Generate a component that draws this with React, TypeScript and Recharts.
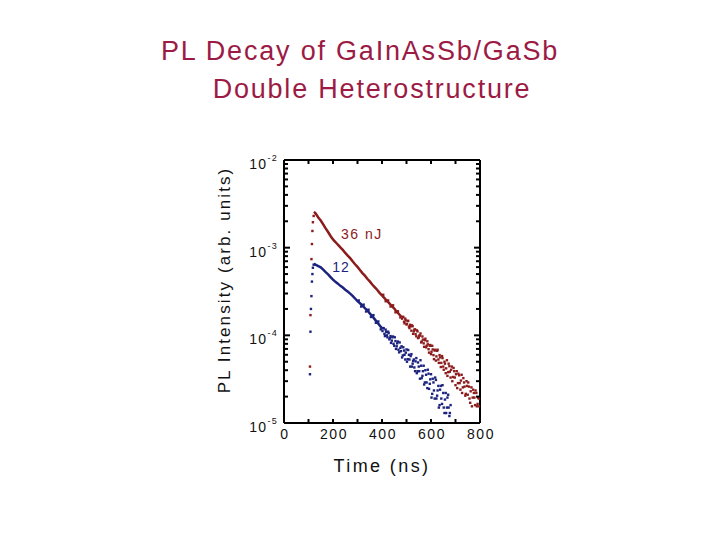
import React from "react";
import {
  ComposedChart,
  Line,
  Scatter,
  XAxis,
  YAxis,
} from "recharts";

// tick values
const xTicks = [0, 100, 200, 300, 400, 500, 600, 700, 800];
const xLabels = [0, 200, 400, 600, 800];
const yTicks = [
  1e-5, 2e-5, 3e-5, 4e-5, 5e-5, 6e-5, 7e-5, 8e-5, 9e-5,
  1e-4, 2e-4, 3e-4, 4e-4, 5e-4, 6e-4, 7e-4, 8e-4, 9e-4,
  1e-3, 2e-3, 3e-3, 4e-3, 5e-3, 6e-3, 7e-3, 8e-3, 9e-3,
  1e-2,
];
const yDecades = [1e-5, 1e-4, 1e-3, 1e-2];

// 36 nJ : rising edge, smooth decay, noisy tail
const redRiseT = [106, 108, 112, 114, 116, 118, 121];
const redRiseV = [4.4e-5, 1.7e-4, 7.4e-4, 1.1e-3, 1.55e-3, 1.95e-3, 2.3e-3];
const redLineT = [122, 126, 130, 140, 150, 160, 170, 180, 190, 200, 210, 220, 230, 240, 250, 260, 270, 280, 290, 300, 310, 320, 330, 340, 350, 360, 370, 380, 390, 400, 410, 420, 430, 440, 450, 460, 470, 480];
const redLineV = [2.56e-3, 2.51e-3, 2.43e-3, 2.21e-3, 2.04e-3, 1.84e-3, 1.66e-3, 1.51e-3, 1.36e-3, 1.24e-3, 1.16e-3, 1.08e-3, 1.01e-3, 9.44e-4, 8.7e-4, 8.13e-4, 7.59e-4, 7.0e-4, 6.46e-4, 6.03e-4, 5.56e-4, 5.13e-4, 4.79e-4, 4.42e-4, 4.12e-4, 3.8e-4, 3.55e-4, 3.31e-4, 3.05e-4, 2.85e-4, 2.66e-4, 2.48e-4, 2.32e-4, 2.16e-4, 2.02e-4, 1.86e-4, 1.74e-4, 1.62e-4];
const redMidT = [405, 415, 425, 435, 445, 455, 465, 475];
const redMidV = [2.9e-4, 2.45e-4, 2.5e-4, 2.13e-4, 2.2e-4, 1.83e-4, 1.88e-4, 1.6e-4];
const redTailAT = [485, 490, 495, 500, 505, 510, 515, 520, 525, 530, 535, 540, 545, 550, 555, 560, 565, 570, 575, 580, 585, 590, 595, 600, 605, 610, 615, 620, 625, 630, 635, 640, 645, 650, 655, 660, 665, 670, 675, 680, 685, 690, 695, 700, 705, 710, 715, 720, 725, 730, 735, 740, 745, 750, 755, 760, 765, 770, 775, 780, 785, 790, 795, 800];
const redTailAV = [1.62e-4, 1.43e-4, 1.55e-4, 1.33e-4, 1.46e-4, 1.26e-4, 1.32e-4, 1.13e-4, 1.27e-4, 1.11e-4, 1.17e-4, 9.75e-5, 1.11e-4, 9.45e-5, 9.95e-5, 8.3e-5, 9.7e-5, 8.1e-5, 8.8e-5, 7.3e-5, 8.55e-5, 6.95e-5, 7.6e-5, 6.1e-5, 7.6e-5, 5.95e-5, 6.7e-5, 5.15e-5, 6.65e-5, 5.3e-5, 5.95e-5, 4.35e-5, 5.8e-5, 4.4e-5, 5.0e-5, 3.7e-5, 5.2e-5, 3.8e-5, 4.45e-5, 3.3e-5, 4.4e-5, 3.35e-5, 3.9e-5, 2.7e-5, 3.9e-5, 2.85e-5, 3.5e-5, 2.4e-5, 3.55e-5, 2.55e-5, 2.9e-5, 2.05e-5, 3.0e-5, 2.1e-5, 2.6e-5, 1.7e-5, 2.55e-5, 1.95e-5, 2.2e-5, 1.6e-5, 2.2e-5, 1.65e-5, 1.9e-5, 1.95e-5];
const redTailBT = [482, 487, 492, 497, 502, 507, 512, 517, 522, 527, 532, 537, 542, 547, 552, 557, 562, 567, 572, 577, 582, 587, 592, 597, 602, 607, 612, 617, 622, 627, 632, 637, 642, 647, 652, 657, 662, 667, 672, 677, 682, 687, 692, 697, 702, 707, 712, 717, 722, 727, 732, 737, 742, 747, 752, 757, 762, 767, 772, 777, 782, 787, 792, 797];
const redTailBV = [1.55e-4, 1.62e-4, 1.37e-4, 1.48e-4, 1.35e-4, 1.46e-4, 1.21e-4, 1.27e-4, 1.3e-4, 1.04e-4, 1.16e-4, 1.03e-4, 1.14e-4, 9.3e-5, 9.9e-5, 1.05e-4, 8.5e-5, 8.95e-5, 7.4e-5, 9.15e-5, 7.6e-5, 7.9e-5, 6.35e-5, 7.75e-5, 6.5e-5, 6.9e-5, 5.35e-5, 6.85e-5, 5.75e-5, 6.85e-5, 4.85e-5, 5.6e-5, 4.85e-5, 5.5e-5, 4.05e-5, 4.75e-5, 4.2e-5, 3.45e-5, 4.75e-5, 3.85e-5, 4.05e-5, 3.0e-5, 4.25e-5, 3.3e-5, 3.6e-5, 2.5e-5, 3.65e-5, 2.85e-5, 3.05e-5, 2.2e-5, 3.25e-5, 2.6e-5, 2.15e-5, 2.65e-5, 2.9e-5, 1.9e-5, 2.3e-5, 1.55e-5, 2.4e-5, 1.95e-5, 2.35e-5, 1.55e-5, 1.95e-5, 1.55e-5];

// 12 nJ
const blueRiseT = [106, 108, 110, 112, 114, 116, 118, 121];
const blueRiseV = [3.6e-5, 1.1e-4, 2.0e-4, 2.8e-4, 4.1e-4, 5.0e-4, 5.9e-4, 6.4e-4];
const blueLineT = [122, 126, 130, 140, 150, 160, 170, 180, 190, 200, 210, 220, 230, 240, 250, 260, 270, 280, 290, 300, 310, 320, 330, 340, 350, 360, 370, 380, 390, 400];
const blueLineV = [6.5e-4, 6.46e-4, 6.38e-4, 6.17e-4, 5.96e-4, 5.62e-4, 5.25e-4, 4.95e-4, 4.62e-4, 4.32e-4, 4.07e-4, 3.89e-4, 3.67e-4, 3.51e-4, 3.31e-4, 3.16e-4, 2.99e-4, 2.82e-4, 2.63e-4, 2.45e-4, 2.32e-4, 2.19e-4, 2.04e-4, 1.93e-4, 1.78e-4, 1.66e-4, 1.53e-4, 1.41e-4, 1.3e-4, 1.2e-4];
const blueMidT = [305, 315, 325, 335, 345, 355, 365, 375, 385, 395];
const blueMidV = [2.5e-4, 2.13e-4, 2.24e-4, 1.87e-4, 1.96e-4, 1.62e-4, 1.7e-4, 1.39e-4, 1.44e-4, 1.17e-4];
const blueTailAT = [405, 410, 415, 420, 425, 430, 435, 440, 445, 450, 455, 460, 465, 470, 475, 480, 485, 490, 495, 500, 505, 510, 515, 520, 525, 530, 535, 540, 545, 550, 555, 560, 565, 570, 575, 580, 585, 590, 595, 600, 605, 610, 615, 620, 625, 630, 635, 640, 645, 650, 655, 660, 665, 670, 675, 680];
const blueTailAV = [1.21e-4, 1.04e-4, 1.16e-4, 1.0e-4, 1.1e-4, 9.0e-5, 9.8e-5, 8.7e-5, 9.7e-5, 7.6e-5, 8.6e-5, 7.5e-5, 8.5e-5, 6.4e-5, 7.2e-5, 7.5e-5, 5.9e-5, 6.7e-5, 5.3e-5, 6.9e-5, 5.35e-5, 6.0e-5, 4.4e-5, 6.1e-5, 4.75e-5, 5.3e-5, 3.9e-5, 5.5e-5, 3.9e-5, 4.4e-5, 3.2e-5, 4.5e-5, 3.45e-5, 4.5e-5, 2.9e-5, 3.55e-5, 2.5e-5, 3.65e-5, 2.8e-5, 3.6e-5, 2.15e-5, 2.9e-5, 1.9e-5, 3.1e-5, 2.05e-5, 2.65e-5, 1.6e-5, 2.65e-5, 1.65e-5, 2.2e-5, 1.3e-5, 2.2e-5, 1.5e-5, 2.1e-5, 1.2e-5, 1.6e-5];
const blueTailBT = [402, 407, 412, 417, 422, 427, 432, 437, 442, 447, 452, 457, 462, 467, 472, 477, 482, 487, 492, 497, 502, 507, 512, 517, 522, 527, 532, 537, 542, 547, 552, 557, 562, 567, 572, 577, 582, 587, 592, 597, 602, 607, 612, 617, 622, 627, 632, 637, 642, 647, 652, 657, 662, 667, 672, 677];
const blueTailBV = [1.12e-4, 1.2e-4, 9.8e-5, 1.09e-4, 9.5e-5, 1.06e-4, 9.3e-5, 8.2e-5, 9.5e-5, 8.0e-5, 9.5e-5, 7.0e-5, 8.1e-5, 6.85e-5, 8.3e-5, 6.6e-5, 5.6e-5, 7.3e-5, 6.0e-5, 6.35e-5, 5.0e-5, 6.8e-5, 5.3e-5, 5.8e-5, 4.4e-5, 5.1e-5, 4.3e-5, 5.05e-5, 3.7e-5, 4.9e-5, 3.9e-5, 5.2e-5, 3.25e-5, 3.9e-5, 2.75e-5, 4.0e-5, 2.9e-5, 4.05e-5, 2.45e-5, 3.15e-5, 1.95e-5, 3.2e-5, 2.35e-5, 3.3e-5, 1.9e-5, 2.35e-5, 1.5e-5, 2.4e-5, 1.9e-5, 2.7e-5, 1.5e-5, 1.85e-5, 1.3e-5, 1.95e-5, 1.5e-5, 1.3e-5];

const RED = "#8c1c1c";
const BLUE = "#1c237e";
const TITLE = "#9b1b45";
const FONT = "'Liberation Sans', Arial, sans-serif";

const zip = (t: number[], v: number[]) => t.map((x, i) => ({ t: x, v: v[i] }));

const dot = (color: string) => (p: any) =>
  <rect x={p.cx - 1.2} y={p.cy - 1.2} width={2.4} height={2.4} fill={color} />;

const isDecade = (v: number) => yDecades.some((d) => Math.abs(v / d - 1) < 1e-6);

const LeftTick = (props: any) => {
  const { x, y, payload } = props;
  const major = isDecade(payload.value);
  const exp = Math.round(Math.log10(payload.value));
  return (
    <g>
      <line x1={x} x2={x + (major ? 6 : 4)} y1={y} y2={y} stroke="#000" strokeWidth={2} />
      {major && (
        <text x={x - 6} y={y + 9} textAnchor="end" fontSize={14} fontFamily={FONT} fill="#111" letterSpacing={1.3}>
          <tspan>10</tspan>
          <tspan dy={-8} fontSize={9}>{exp}</tspan>
        </text>
      )}
    </g>
  );
};

const RightTick = (props: any) => {
  const { x, y, payload } = props;
  const major = isDecade(payload.value);
  return <line x1={x} x2={x - (major ? 6 : 4)} y1={y} y2={y} stroke="#000" strokeWidth={2} />;
};

const BottomTick = (props: any) => {
  const { x, y, payload } = props;
  const show = xLabels.includes(payload.value);
  return (
    <g>
      <line x1={x} x2={x} y1={y} y2={y - 4} stroke="#000" strokeWidth={2} />
      {show && (
        <text x={x + 1} y={y + 16} textAnchor="middle" fontSize={14} fontFamily={FONT} fill="#111" letterSpacing={1.5}>
          {payload.value}
        </text>
      )}
    </g>
  );
};

const TopTick = (props: any) => {
  const { x, y } = props;
  return <line x1={x} x2={x} y1={y} y2={y + 4} stroke="#000" strokeWidth={2} />;
};

export default function App() {
  return (
    <div style={{ position: "absolute", left: 0, top: 0, width: 720, height: 540, background: "#fff", fontFamily: FONT }}>
      <div style={{ position: "absolute", left: 0, width: 720, top: 32, textAlign: "center", fontSize: 27, letterSpacing: 1.8, color: TITLE, lineHeight: "38px" }}>
        <div style={{ marginLeft: 0 }}>PL Decay of GaInAsSb/GaSb</div>
        <div style={{ marginLeft: 24 }}>Double Heterostructure</div>
      </div>
      <div
        style={{
          position: "absolute",
          left: 225,
          top: 280,
          transform: "translate(-50%, -50%) rotate(-90deg)",
          whiteSpace: "nowrap",
          fontSize: 17,
          letterSpacing: 2.1,
          color: "#111",
        }}
      >
        PL Intensity (arb. units)
      </div>
      <div style={{ position: "absolute", left: 382, top: 466, transform: "translate(-50%, -50%)", fontSize: 18, letterSpacing: 2.4, color: "#111", whiteSpace: "nowrap" }}>
        Time (ns)
      </div>
      <ComposedChart width={720} height={540} margin={{ top: 150, right: 230, bottom: 87, left: 244 }}>
        <XAxis
          xAxisId={0}
          dataKey="t"
          type="number"
          domain={[0, 800]}
          ticks={xTicks}
          interval={0}
          allowDataOverflow
          height={30}
          tickSize={0}
          tickMargin={0}
          tick={<BottomTick />}
          axisLine={{ stroke: "#000", strokeWidth: 2 }}
        />
        <XAxis
          xAxisId="top"
          orientation="top"
          dataKey="t"
          type="number"
          domain={[0, 800]}
          ticks={xTicks}
          interval={0}
          allowDataOverflow
          height={10}
          tickSize={0}
          tickMargin={0}
          tick={<TopTick />}
          axisLine={{ stroke: "#000", strokeWidth: 2 }}
        />
        <YAxis
          yAxisId={0}
          dataKey="v"
          type="number"
          scale="log"
          domain={[1e-5, 1e-2]}
          ticks={yTicks}
          interval={0}
          allowDataOverflow
          width={40}
          tickSize={0}
          tickMargin={0}
          tick={<LeftTick />}
          axisLine={{ stroke: "#000", strokeWidth: 2 }}
        />
        <YAxis
          yAxisId="right"
          orientation="right"
          dataKey="v"
          type="number"
          scale="log"
          domain={[1e-5, 1e-2]}
          ticks={yTicks}
          interval={0}
          allowDataOverflow
          width={10}
          tickSize={0}
          tickMargin={0}
          tick={<RightTick />}
          axisLine={{ stroke: "#000", strokeWidth: 2 }}
        />
        <Line data={zip(redLineT, redLineV)} dataKey="v" type="linear" stroke={RED} strokeWidth={2.5} dot={false} isAnimationActive={false} />
        <Line data={zip(blueLineT, blueLineV)} dataKey="v" type="linear" stroke={BLUE} strokeWidth={2.5} dot={false} isAnimationActive={false} />
        <Scatter data={zip(redRiseT, redRiseV)} dataKey="v" shape={dot(RED)} isAnimationActive={false} />
        <Scatter data={zip(blueRiseT, blueRiseV)} dataKey="v" shape={dot(BLUE)} isAnimationActive={false} />
        <Scatter data={zip(redMidT, redMidV)} dataKey="v" shape={dot(RED)} isAnimationActive={false} />
        <Scatter data={zip(blueMidT, blueMidV)} dataKey="v" shape={dot(BLUE)} isAnimationActive={false} />
        <Scatter data={zip(redTailAT, redTailAV)} dataKey="v" shape={dot(RED)} isAnimationActive={false} />
        <Scatter data={zip(redTailBT, redTailBV)} dataKey="v" shape={dot(RED)} isAnimationActive={false} />
        <Scatter data={zip(blueTailAT, blueTailAV)} dataKey="v" shape={dot(BLUE)} isAnimationActive={false} />
        <Scatter data={zip(blueTailBT, blueTailBV)} dataKey="v" shape={dot(BLUE)} isAnimationActive={false} />
        <Scatter
          data={[{ t: 318, v: 1.45e-3 }]}
          dataKey="v"
          isAnimationActive={false}
          shape={(p: any) => (
            <text x={p.cx} y={p.cy + 5} textAnchor="middle" fontSize={14} fontFamily={FONT} fill={RED} letterSpacing={1.5}>
              36 nJ
            </text>
          )}
        />
        <Scatter
          data={[{ t: 233, v: 6.0e-4 }]}
          dataKey="v"
          isAnimationActive={false}
          shape={(p: any) => (
            <text x={p.cx} y={p.cy + 5} textAnchor="middle" fontSize={14} fontFamily={FONT} fill={BLUE} letterSpacing={1}>
              12
            </text>
          )}
        />
      </ComposedChart>
    </div>
  );
}
